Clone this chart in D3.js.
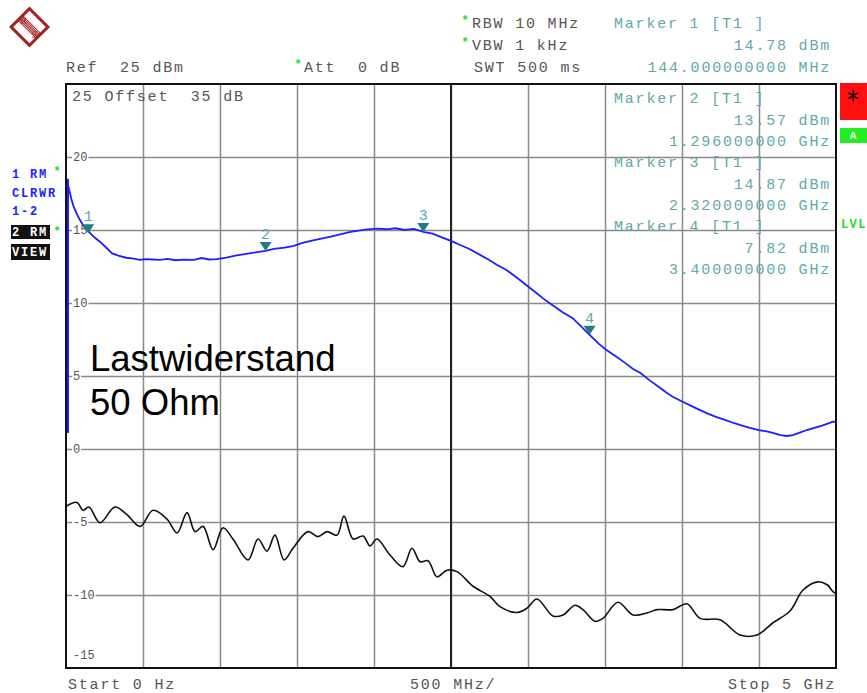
<!DOCTYPE html>
<html>
<head>
<meta charset="utf-8">
<script src="https://cdn.jsdelivr.net/npm/d3@7"></script>
<style>
  body { margin: 0; background: #fff; }
  svg { display: block; }
  .mono { font-family: "Liberation Mono", "DejaVu Sans Mono", monospace; white-space: pre; }
  .grid line { stroke: #8a8a8a; stroke-width: 1.5; }
  .grid path { display: none; }
</style>
</head>
<body>
<div id="chart"></div>
<script>
// sweep settings, GHz / dBm
const startGHz = 0;
const stopGHz = 5;
const refLevel = 25;
const bottomLevel = -15;
const yTicks = [20, 15, 10, 5, 0, -5, -10];
const xTicks = [0.5, 1, 1.5, 2, 2.5, 3, 3.5, 4, 4.5];

// trace 1 (blue, clear/write)
const blueFreq = [0.006, 0.02, 0.035, 0.05, 0.07, 0.09, 0.11, 0.134, 0.16, 0.19, 0.22, 0.26, 0.30, 0.34, 0.39, 0.43, 0.48, 0.52, 0.56, 0.61,
  0.66, 0.71, 0.76, 0.83, 0.88, 0.93, 0.98, 1.04, 1.10, 1.16, 1.22, 1.296, 1.35, 1.42, 1.48, 1.53, 1.59, 1.65, 1.72, 1.78,
  1.84, 1.90, 1.96, 2.02, 2.08, 2.14, 2.20, 2.26, 2.32, 2.38, 2.44, 2.50, 2.56, 2.62, 2.68, 2.74, 2.80, 2.86, 2.92, 2.98,
  3.04, 3.10, 3.16, 3.22, 3.29, 3.34, 3.40, 3.46, 3.51, 3.57, 3.63, 3.68, 3.73, 3.79, 3.85, 3.90, 3.94, 4.00, 4.06, 4.11,
  4.16, 4.22, 4.28, 4.33, 4.38, 4.44, 4.50, 4.55, 4.59, 4.64, 4.68, 4.72, 4.76, 4.81, 4.86, 4.91, 4.95, 4.98, 5.0];
const blueLevel = [18.4, 17.8, 17.1, 16.6, 16.1, 15.7, 15.35, 15.05, 14.75, 14.45, 14.2, 13.8, 13.4, 13.25, 13.1, 13.05, 12.95, 13.0, 12.98, 12.95,
  13.02, 12.93, 12.97, 12.95, 13.08, 12.98, 13.0, 13.1, 13.25, 13.35, 13.45, 13.57, 13.7, 13.8, 13.92, 14.1, 14.25, 14.4, 14.55, 14.7,
  14.85, 14.95, 15.05, 15.1, 15.05, 15.12, 15.0, 15.08, 14.87, 14.75, 14.5, 14.25, 13.97, 13.7, 13.35, 13.0, 12.6, 12.26, 11.8, 11.3,
  10.8, 10.3, 9.85, 9.4, 8.96, 8.45, 7.82, 7.2, 6.78, 6.35, 5.9, 5.5, 5.2, 4.7, 4.25, 3.85, 3.58, 3.25, 2.95, 2.7,
  2.46, 2.2, 2.0, 1.8, 1.64, 1.45, 1.3, 1.2, 1.1, 0.95, 0.89, 0.95, 1.1, 1.3, 1.45, 1.6, 1.75, 1.87, 1.85];
// the 0 Hz spike of trace 1 (min / max)
const blueZeroSpan = [1.1, 18.5];

// trace 2 (black, view)
const blackFreq = [0, 0.071, 0.110, 0.149, 0.221, 0.318, 0.396, 0.481, 0.565, 0.656, 0.721, 0.786, 0.838, 0.890, 0.955, 1.019, 1.084, 1.182, 1.247, 1.305,
  1.357, 1.416, 1.474, 1.571, 1.636, 1.695, 1.760, 1.805, 1.864, 1.929, 1.974, 2.019, 2.104, 2.188, 2.247, 2.299, 2.351, 2.409, 2.474, 2.539,
  2.643, 2.753, 2.818, 2.929, 2.994, 3.058, 3.162, 3.227, 3.305, 3.357, 3.435, 3.487, 3.584, 3.682, 3.773, 3.838, 3.942, 4.032, 4.117, 4.247,
  4.377, 4.487, 4.591, 4.701, 4.786, 4.883, 4.942, 4.981, 5.0];
const blackLevel = [-3.93, -3.66, -4.2, -3.97, -5.05, -3.97, -4.5, -5.3, -4.2, -4.8, -5.75, -4.36, -5.66, -5.3, -6.9, -5.4, -6.16, -7.6, -6.16, -7.0,
  -5.9, -7.6, -6.8, -5.66, -6.0, -5.66, -5.9, -4.6, -6.16, -5.96, -6.64, -6.16, -7.26, -8.06, -6.8, -7.72, -7.65, -8.75, -8.3, -8.4,
  -9.4, -10.1, -10.8, -11.2, -10.9, -10.27, -11.44, -11.37, -10.7, -11.0, -11.8, -11.6, -10.5, -11.37, -11.23, -11.0, -11.0, -10.6, -11.6, -11.7,
  -12.74, -12.74, -11.9, -11.1, -9.66, -9.1, -9.3, -9.77, -9.9];

// markers on trace 1
const markerNo = [1, 2, 3, 4];
const markerFreq = [0.144, 1.296, 2.32, 3.40];
const markerLevel = [14.78, 13.57, 14.87, 7.82];
const markerFreqText = ["144.000000000 MHz", "1.296000000 GHz", "2.320000000 GHz", "3.400000000 GHz"];

const width = 867, height = 693;
const plotL = 66, plotR = 836, plotT = 84, plotB = 668;

const teal = "#5fa9a9";
const markFill = "#1f7d7d";
const grey = "#555";
const blue = "#1e1eff";

const svg = d3.select("#chart").append("svg")
    .attr("width", width)
    .attr("height", height);

svg.append("rect").attr("width", width).attr("height", height).attr("fill", "#fff");

const x = d3.scaleLinear().domain([startGHz, stopGHz]).range([plotL, plotR]);
const y = d3.scaleLinear().domain([bottomLevel, refLevel]).range([plotB, plotT]);

// grid
svg.append("g").attr("class", "grid")
    .attr("transform", `translate(${plotL},0)`)
    .call(d3.axisLeft(y).tickValues(yTicks).tickSize(-(plotR - plotL)).tickFormat(""));
svg.append("g").attr("class", "grid")
    .attr("transform", `translate(0,${plotB})`)
    .call(d3.axisBottom(x).tickValues(xTicks).tickSize(-(plotB - plotT)).tickFormat(""));
// centre line is darker
svg.append("line")
    .attr("x1", x(2.5)).attr("x2", x(2.5)).attr("y1", plotT).attr("y2", plotB)
    .attr("stroke", "#222").attr("stroke-width", 2);

// y labels sit on the grid lines
const yl = svg.append("g").attr("class", "mono");
yTicks.forEach(v => {
  const t = yl.append("text")
      .attr("x", 73).attr("y", y(v) + 4)
      .attr("font-size", 12).attr("fill", grey)
      .text(v);
  const bb = t.node().getBBox();
  yl.insert("rect", "text")
      .attr("x", bb.x - 1).attr("y", y(v) - 2).attr("width", bb.width + 2).attr("height", 4)
      .attr("fill", "#fff");
});
yl.append("text").attr("x", 73).attr("y", 659).attr("font-size", 12).attr("fill", grey).text("-15");

// annotation text
svg.append("text").attr("x", 90).attr("y", 371)
    .attr("font-family", "'Liberation Sans', Arial, sans-serif").attr("font-size", 36.5).attr("fill", "#000")
    .text("Lastwiderstand");
svg.append("text").attr("x", 90).attr("y", 415)
    .attr("font-family", "'Liberation Sans', Arial, sans-serif").attr("font-size", 36.5).attr("fill", "#000")
    .text("50 Ohm");

// marker readouts
const mono = (sel, xx, yy, txt, col, anchor) => sel.append("text")
    .attr("class", "mono").attr("x", xx).attr("y", yy)
    .attr("font-size", 15).attr("letter-spacing", 1.8)
    .attr("fill", col).attr("text-anchor", anchor || "start")
    .text(txt);

const readTop = [28, 103, 167, 231];
markerNo.forEach((m, i) => {
  const by = readTop[i];
  const step = i === 0 ? 22 : 21.5;
  mono(svg, 614, by, `Marker ${m} [T1 ]`, teal);
  mono(svg, 831, by + step, `${markerLevel[i].toFixed(2)} dBm`, teal, "end");
  mono(svg, 831, by + step * 2, markerFreqText[i], teal, "end");
});

// header
mono(svg, 66, 72, "Ref  25 dBm", grey);
mono(svg, 304, 72, "Att  0 dB", grey);
mono(svg, 472, 28, "RBW 10 MHz", grey);
mono(svg, 472, 50, "VBW 1 kHz", grey);
mono(svg, 474, 72, "SWT 500 ms", grey);
mono(svg, 72, 101, "25 Offset  35 dB", grey);

// small green asterisks
const stars = [[298, 68], [465, 24], [465, 46], [57, 175], [57, 235]];
stars.forEach(([sx, sy]) => {
  svg.append("text").attr("class", "mono").attr("x", sx).attr("y", sy).attr("text-anchor", "middle")
      .attr("font-size", 12).attr("font-weight", "bold").attr("fill", "#22dd22").text("*");
});

// bottom labels
mono(svg, 68, 689, "Start 0 Hz", grey);
mono(svg, 410, 689, "500 MHz/", grey);
mono(svg, 836, 689, "Stop 5 GHz", grey, "end");

// traces
const blackData = blackFreq.map((f, i) => [f, blackLevel[i]]);
const blueData = blueFreq.map((f, i) => [f, blueLevel[i]]);

svg.append("path")
    .datum(blackData)
    .attr("fill", "none").attr("stroke", "#111").attr("stroke-width", 1.6)
    .attr("d", d3.line().x(d => x(d[0])).y(d => y(d[1])).curve(d3.curveCatmullRom));

svg.append("line")
    .attr("x1", x(0) + 1.5).attr("x2", x(0) + 1.5)
    .attr("y1", y(blueZeroSpan[0])).attr("y2", y(blueZeroSpan[1]))
    .attr("stroke", blue).attr("stroke-width", 3);

svg.append("path")
    .datum(blueData)
    .attr("fill", "none").attr("stroke", blue).attr("stroke-width", 1.8)
    .attr("d", d3.line().x(d => x(d[0])).y(d => y(d[1])));

// marker triangles
const mk = svg.append("g");
markerNo.forEach((m, i) => {
  const px = x(markerFreq[i]), py = y(markerLevel[i]);
  mk.append("path")
      .attr("d", `M${px - 6},${py - 9}L${px + 6},${py - 9}L${px},${py}Z`)
      .attr("fill", markFill);
  mk.append("text").attr("class", "mono")
      .attr("x", px).attr("y", py - 12)
      .attr("text-anchor", "middle").attr("font-size", 15).attr("fill", teal)
      .text(m);
});

// frame
svg.append("rect")
    .attr("x", plotL).attr("y", plotT).attr("width", plotR - plotL).attr("height", plotB - plotT)
    .attr("fill", "none").attr("stroke", "#111").attr("stroke-width", 2);

// trace info on the left
const side = svg.append("g").attr("class", "mono").attr("font-size", 12)
    .attr("font-weight", "bold").attr("letter-spacing", 1.8);
side.append("text").attr("x", 12).attr("y", 178).attr("fill", blue).text("1 RM");
side.append("text").attr("x", 12).attr("y", 197).attr("fill", blue).text("CLRWR");
side.append("text").attr("x", 12).attr("y", 215).attr("fill", blue).text("1-2");
side.append("rect").attr("x", 11).attr("y", 225).attr("width", 39).attr("height", 14).attr("fill", "#111");
side.append("text").attr("x", 12).attr("y", 236).attr("fill", "#fff").text("2 RM");
side.append("rect").attr("x", 11).attr("y", 244).attr("width", 39).attr("height", 16).attr("fill", "#111");
side.append("text").attr("x", 12).attr("y", 256).attr("fill", "#fff").text("VIEW");

// right status boxes
svg.append("rect").attr("x", 840).attr("y", 83).attr("width", 27).attr("height", 37).attr("fill", "#ff1010");
svg.append("text").attr("x", 853).attr("y", 108).attr("text-anchor", "middle")
    .attr("font-family", "'DejaVu Sans', sans-serif").attr("font-size", 24).attr("fill", "#000").text("*");
svg.append("rect").attr("x", 840).attr("y", 128).attr("width", 27).attr("height", 15).attr("fill", "#22ee22");
svg.append("text").attr("class", "mono").attr("x", 853).attr("y", 139).attr("text-anchor", "middle")
    .attr("font-size", 11).attr("font-weight", "bold").attr("fill", "#fff").text("A");
svg.append("text").attr("class", "mono").attr("x", 841).attr("y", 228)
    .attr("font-size", 12).attr("font-weight", "bold").attr("letter-spacing", 1.4)
    .attr("fill", "#22dd22").text("LVL");

// R&S logo
const logo = svg.append("g").attr("transform", "translate(29.5,27)");
const dia = logo.append("g").attr("transform", "rotate(45)");
dia.append("rect").attr("x", -13).attr("y", -13).attr("width", 26).attr("height", 26)
    .attr("fill", "#fff").attr("stroke", "#a32222").attr("stroke-width", 3);
[-4, -2, 0, 2, 4].forEach(o => {
  dia.append("line").attr("x1", -13).attr("x2", 13).attr("y1", o * 0.8).attr("y2", o * 0.8)
      .attr("stroke", "#a32222").attr("stroke-width", 1);
});
logo.append("text").attr("x", -6).attr("y", -3).attr("text-anchor", "middle")
    .attr("font-family", "'Liberation Serif', serif").attr("font-size", 10).attr("fill", "#a32222").text("R");
logo.append("text").attr("x", 5).attr("y", 11).attr("text-anchor", "middle")
    .attr("font-family", "'Liberation Serif', serif").attr("font-size", 10).attr("fill", "#a32222").text("S");
</script>
</body>
</html>
